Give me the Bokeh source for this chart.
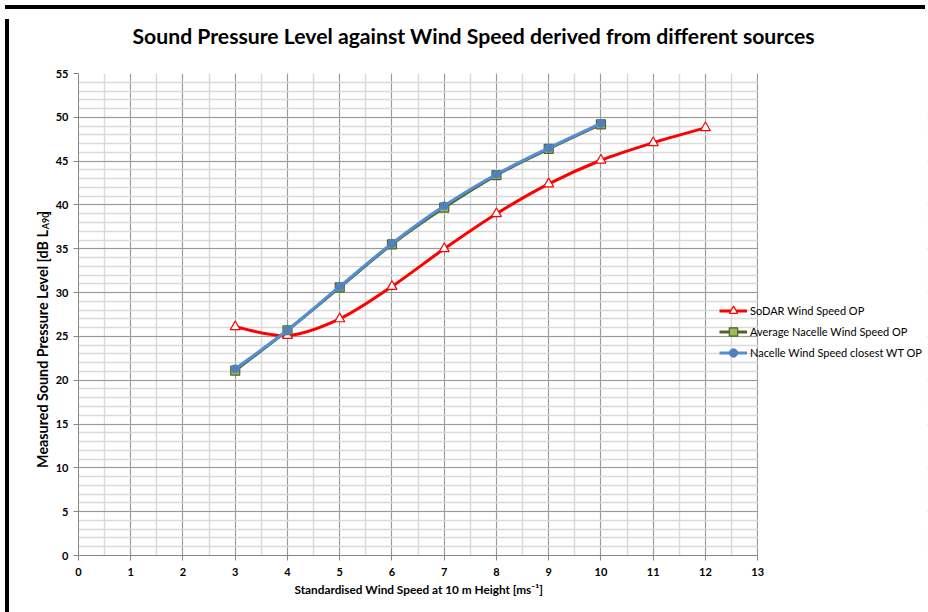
import numpy as np
from bokeh.plotting import figure
from bokeh.layouts import column, row
from bokeh.models import (SingleIntervalTicker, Legend, LegendItem, ColumnDataSource,
                          BoxAnnotation, Div, Title)
from bokeh.core.properties import value
from bokeh.embed import file_html
from bokeh.resources import INLINE

# ---- data ----
wind_speed_sodar = [3, 4, 5, 6, 7, 8, 9, 10, 11, 12]
spl_sodar = [26.1, 25.1, 27.0, 30.7, 35.0, 39.0, 42.4, 45.1, 47.1, 48.8]

wind_speed_nacelle = [3, 4, 5, 6, 7, 8, 9, 10]
spl_avg_nacelle = [21.1, 25.7, 30.6, 35.5, 39.7, 43.4, 46.4, 49.2]
spl_closest_wt = [21.3, 25.7, 30.7, 35.6, 39.9, 43.5, 46.5, 49.3]

x_axis_max = 13
y_axis_max = 55

title_text = "Sound Pressure Level against Wind Speed derived from different sources"
x_label = "Standardised Wind Speed at 10 m Height [ms\u207b\u00b9]"
y_label_parts = ["Measured Sound Pressure Level [dB L", "A90", "]"]
series_names = ["SoDAR Wind Speed OP", "Average Nacelle Wind Speed OP",
                "Nacelle Wind Speed closest WT OP"]

FONT = "Lato"

# ---- layout geometry (pixels) ----
TOTAL_W = 916
TITLE_H = 45
MAIN_H = 551
YLAB_W = 38
FRAME_W = 680          # width of the 0..13 part of the plot area
FRAME_H = 482
LEFT = 25
RIGHT = 3
TOP = 14
BOTTOM = MAIN_H - TOP - FRAME_H
P_W = TOTAL_W - YLAB_W
ext_w = P_W - LEFT - RIGHT          # plot area extends under the legend
x_end = x_axis_max * ext_w / FRAME_W


def smooth_segments(xs, ys):
    """Cubic Bezier control points (Catmull-Rom) for a smoothed line through the data."""
    x = np.asarray(xs, float)
    y = np.asarray(ys, float)
    n = len(x)
    xp = np.concatenate([[x[0]], x, [x[-1]]])
    yp = np.concatenate([[y[0]], y, [y[-1]]])
    d = dict(x0=[], y0=[], x1=[], y1=[], cx0=[], cy0=[], cx1=[], cy1=[])
    for i in range(n - 1):
        j = i + 1
        d["x0"].append(x[i]); d["y0"].append(y[i])
        d["x1"].append(x[i + 1]); d["y1"].append(y[i + 1])
        d["cx0"].append(x[i] + (xp[j + 1] - xp[j - 1]) / 6)
        d["cy0"].append(y[i] + (yp[j + 1] - yp[j - 1]) / 6)
        d["cx1"].append(x[i + 1] - (xp[j + 2] - xp[j]) / 6)
        d["cy1"].append(y[i + 1] - (yp[j + 2] - yp[j]) / 6)
    return ColumnDataSource(d)


def blank_fig(w, h):
    f = figure(width=w, height=h, x_range=(0, w), y_range=(0, h), title=None,
               output_backend="svg", toolbar_location=None, min_border=0,
               x_axis_type=None, y_axis_type=None)
    f.xgrid.visible = False
    f.ygrid.visible = False
    f.outline_line_color = None
    f.background_fill_color = "white"
    f.border_fill_color = "white"
    return f


# ---- chart title strip ----
tfig = blank_fig(TOTAL_W, TITLE_H)
tfig.text(x=[118], y=[24], text=[title_text], text_align="left", text_baseline="middle",
          text_font=value(FONT), text_font_size="21.2px", text_font_style="bold",
          text_color="black")

# ---- y axis title strip (with subscript) ----
yfig = blank_fig(YLAB_W, MAIN_H)
yfig.text(x=[28, 31, 28], y=[372, 373, 389], text=y_label_parts,
          angle=np.pi / 2, text_align=["right", "left", "left"], text_baseline="middle",
          text_font=value(FONT), text_font_size=["14.3px", "9px", "14.3px"],
          text_font_style="bold", text_color="black")

# ---- main plot ----
p = figure(width=P_W, height=MAIN_H, x_range=(0, x_end), y_range=(0, y_axis_max),
           title=None, output_backend="svg", toolbar_location=None,
           min_border_left=LEFT, min_border_right=RIGHT,
           min_border_top=TOP, min_border_bottom=BOTTOM)
p.outline_line_color = None
p.background_fill_color = "white"
p.border_fill_color = "white"

xt = SingleIntervalTicker(interval=1, num_minor_ticks=2)
yt = SingleIntervalTicker(interval=5, num_minor_ticks=5)
p.xaxis.ticker = xt
p.yaxis.ticker = yt
p.xaxis.bounds = (0, x_axis_max)
p.xgrid.ticker = xt
p.ygrid.ticker = yt
p.xgrid.bounds = (0, x_axis_max)
for ax in (p.xaxis[0], p.yaxis[0]):
    ax.axis_line_color = "#868686"
    ax.major_tick_line_color = "#868686"
    ax.major_tick_out = 5
    ax.major_tick_in = 0
    ax.minor_tick_line_color = None
    ax.major_label_text_font = FONT
    ax.major_label_text_font_size = "11px"
    ax.major_label_text_font_style = "bold"
    ax.major_label_text_color = "black"
p.yaxis.major_label_standoff = 5
p.xaxis.major_label_standoff = 7

# x axis title (placed under the 0..13 part of the axis)
p.add_layout(Title(text=x_label, align="left", offset=216, standoff=2,
                   text_font=FONT, text_font_size="11.8px", text_font_style="bold",
                   text_color="black"), "below")

for g in (p.xgrid[0], p.ygrid[0]):
    g.grid_line_color = "#9a9a9a"
    g.grid_line_width = 1
    g.minor_grid_line_color = "#d9d9d9"
    g.minor_grid_line_width = 1.5

# blank out the grid right of the x axis end (legend area)
p.add_layout(BoxAnnotation(left=x_axis_max + 0.01, fill_color="white", fill_alpha=1,
                           line_color=None, level="underlay"))

RED = "#FF0000"
OLIVE = "#4F6228"
OLIVE_FILL = "#9BBB59"
BLUE = "#558ED5"

p.bezier(x0="x0", y0="y0", x1="x1", y1="y1", cx0="cx0", cy0="cy0", cx1="cx1", cy1="cy1",
         source=smooth_segments(wind_speed_sodar, spl_sodar), line_color=RED, line_width=3)
r_red = p.scatter(wind_speed_sodar, spl_sodar, marker="triangle", size=10,
                  fill_color="white", line_color=RED, line_width=1.2)

p.bezier(x0="x0", y0="y0", x1="x1", y1="y1", cx0="cx0", cy0="cy0", cx1="cx1", cy1="cy1",
         source=smooth_segments(wind_speed_nacelle, spl_avg_nacelle), line_color=OLIVE, line_width=3)
r_sq = p.scatter(wind_speed_nacelle, spl_avg_nacelle, marker="square", size=9,
                 fill_color=OLIVE_FILL, line_color=OLIVE, line_width=1.2)

p.bezier(x0="x0", y0="y0", x1="x1", y1="y1", cx0="cx0", cy0="cy0", cx1="cx1", cy1="cy1",
         source=smooth_segments(wind_speed_nacelle, spl_closest_wt), line_color=BLUE, line_width=3)
r_ci = p.scatter(wind_speed_nacelle, spl_closest_wt, marker="circle", size=8,
                 fill_color="#4F81BD", line_color="#4F81BD", line_width=1)

# legend-only line glyphs (a single NaN point draws nothing in the plot)
l_red = p.line(x=[np.nan], y=[np.nan], line_color=RED, line_width=3)
l_ol = p.line(x=[np.nan], y=[np.nan], line_color=OLIVE, line_width=3)
l_bl = p.line(x=[np.nan], y=[np.nan], line_color=BLUE, line_width=3)

legend = Legend(items=[
    LegendItem(label=series_names[0], renderers=[l_red, r_red]),
    LegendItem(label=series_names[1], renderers=[l_ol, r_sq]),
    LegendItem(label=series_names[2], renderers=[l_bl, r_ci]),
], location=(641, 192), padding=0, margin=0, spacing=0,
    glyph_width=28, glyph_height=21, label_height=21, label_standoff=3,
    label_text_font=FONT, label_text_font_size="11px", label_text_color="black",
    background_fill_alpha=0, border_line_color=None)
p.add_layout(legend, "center")

# ---- page: thick black frame at top and left ----
top_bar = Div(text="", width=TOTAL_W + 4, height=4, styles={"background-color": "black"})
left_bar = Div(text="", width=4, height=TITLE_H + MAIN_H, styles={"background-color": "black"})
layout = column(top_bar,
                row(left_bar, column(tfig, row(yfig, p, spacing=0), spacing=0), spacing=0),
                spacing=0)

open("out.html", "w").write(file_html(layout, INLINE))
